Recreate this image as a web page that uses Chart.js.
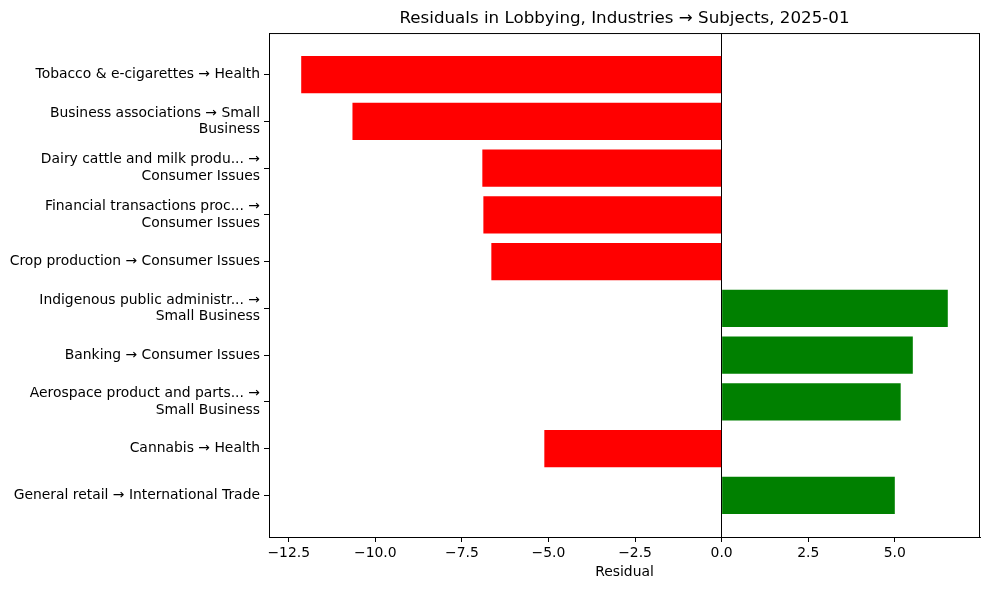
<!DOCTYPE html>
<html>
<head>
<meta charset="utf-8">
<script src="https://cdn.jsdelivr.net/npm/chart.js@4"></script>
<style>
  html, body { margin: 0; padding: 0; background: #fff; }
  #wrap { width: 989px; height: 590px; }
</style>
</head>
<body>
<div id="wrap"><canvas id="myChart" width="989" height="590"></canvas></div>
<script>
// pairs, top to bottom
const categories = [
    ['Tobacco & e-cigarettes → Health'],
    ['Business associations → Small', 'Business'],
    ['Dairy cattle and milk produ... →', 'Consumer Issues'],
    ['Financial transactions proc... →', 'Consumer Issues'],
    ['Crop production → Consumer Issues'],
    ['Indigenous public administr... →', 'Small Business'],
    ['Banking → Consumer Issues'],
    ['Aerospace product and parts... →', 'Small Business'],
    ['Cannabis → Health'],
    ['General retail → International Trade']
];
const residuals = [-12.14, -10.66, -6.91, -6.88, -6.65, 6.53, 5.52, 5.17, -5.12, 5.0];
const xTicks = [-12.5, -10, -7.5, -5, -2.5, 0, 2.5, 5];

const font = { family: 'DejaVu Sans', size: 13.9 };

// کادر دور ناحیه نمودار مثل matplotlib
const frame = {
    id: 'frame',
    afterDraw(chart) {
        const a = chart.chartArea, ctx = chart.ctx;
        ctx.save();
        ctx.strokeStyle = '#000';
        ctx.lineWidth = 1;
        ctx.strokeRect(a.left + 0.5, a.top + 0.5, a.right - a.left - 1, a.bottom - a.top);
        ctx.restore();
    }
};

const ctx = document.getElementById('myChart').getContext('2d');
new Chart(ctx, {
    type: 'bar',
    data: {
        datasets: [{
            data: residuals.map((v, i) => ({ x: v, y: i })),
            backgroundColor: residuals.map(v => v < 0 ? '#ff0000' : '#008000'),
            barPercentage: 0.8,
            categoryPercentage: 1.0,
            borderWidth: 0
        }]
    },
    options: {
        indexAxis: 'y',
        responsive: false,
        animation: false,
        layout: { padding: { left: 0, right: 9, top: 0, bottom: 0 } },
        scales: {
            x: {
                type: 'linear',
                min: -13.07,
                max: 7.46,
                offset: false,
                afterBuildTicks: s => { s.ticks = xTicks.map(v => ({ value: v })); },
                afterFit: s => { s.height = 53; },
                grid: {
                    drawOnChartArea: true,
                    offset: false,
                    color: c => (c.tick && c.tick.value === 0) ? '#000' : 'rgba(0,0,0,0)',
                    tickColor: '#000',
                    tickLength: 5,
                    lineWidth: 1
                },
                border: { display: true, color: '#000' },
                ticks: {
                    color: '#000', font: font, padding: 3, maxRotation: 0,
                    callback: v => v.toFixed(1).replace('-', '\u2212')
                },
                title: { display: true, text: 'Residual', color: '#000', font: font, padding: { top: 0, bottom: 9 } }
            },
            y: {
                type: 'linear',
                reverse: true,
                min: -0.89,
                max: 9.89,
                offset: false,
                afterBuildTicks: s => { s.ticks = categories.map((c, i) => ({ value: i })); },
                afterFit: s => { s.width = 269; },
                grid: { drawOnChartArea: false, offset: false, tickColor: '#000', tickLength: 5 },
                border: { display: true, color: '#000' },
                ticks: {
                    color: '#000', font: font, padding: 4,
                    callback: v => categories[v]
                }
            }
        },
        plugins: {
            legend: { display: false },
            tooltip: { enabled: false },
            title: {
                display: true,
                fullSize: false,
                text: 'Residuals in Lobbying, Industries → Subjects, 2025-01',
                color: '#000',
                font: { family: 'DejaVu Sans', size: 16.7, weight: 'normal' },
                padding: { top: 9, bottom: 4 }
            }
        }
    },
    plugins: [frame]
});
</script>
</body>
</html>
